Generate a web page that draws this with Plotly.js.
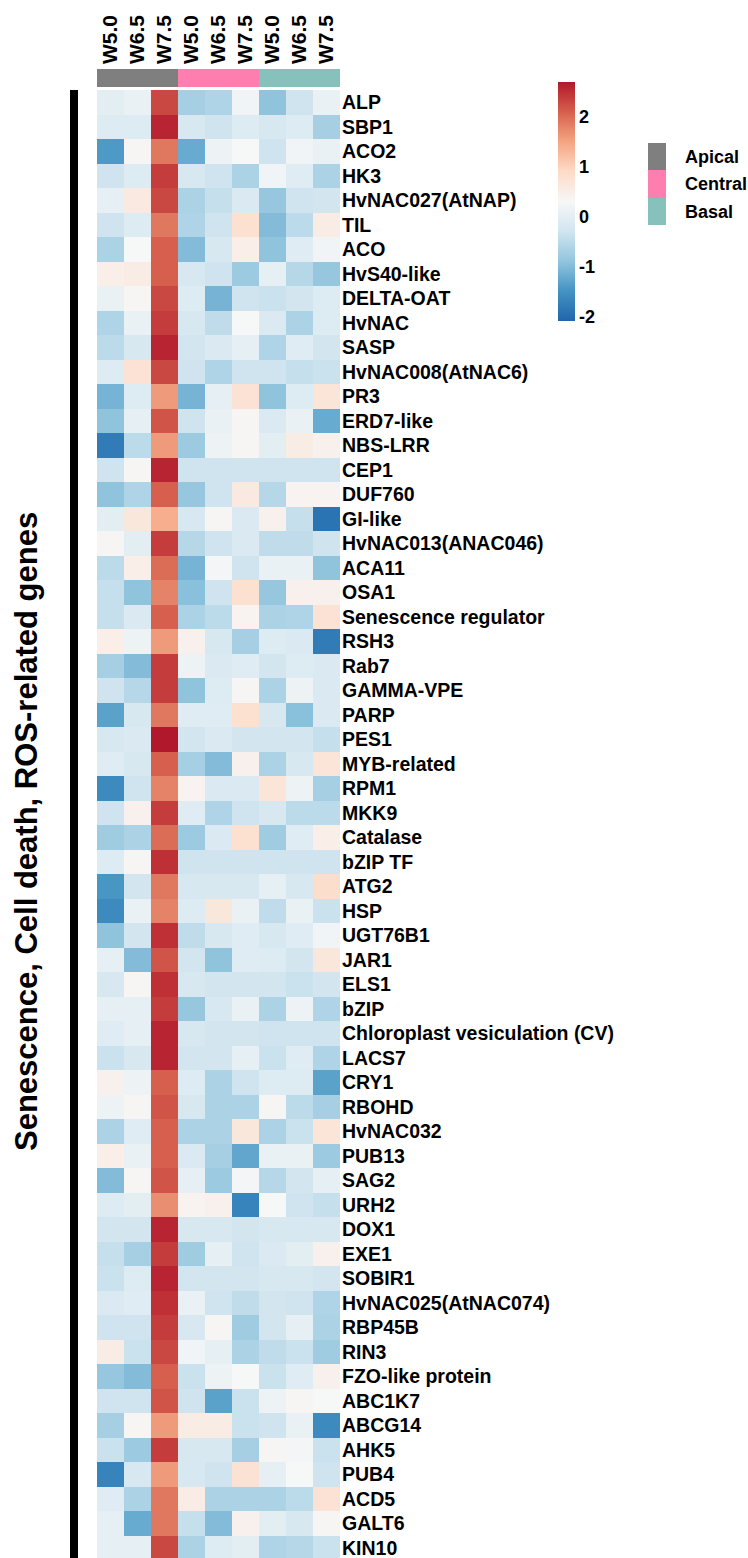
<!DOCTYPE html>
<html>
<head>
<meta charset="utf-8">
<script src="https://cdn.plot.ly/plotly-3.0.1.min.js"></script>
<style>html,body{margin:0;padding:0;background:#fff;overflow:hidden;}</style>
</head>
<body>
<div id="chart" style="width:748px;height:1558px;"></div>
<script>
// ---- data ----
const genes = ["ALP","SBP1","ACO2","HK3","HvNAC027(AtNAP)","TIL","ACO","HvS40-like","DELTA-OAT","HvNAC",
"SASP","HvNAC008(AtNAC6)","PR3","ERD7-like","NBS-LRR","CEP1","DUF760","GI-like","HvNAC013(ANAC046)","ACA11",
"OSA1","Senescence regulator","RSH3","Rab7","GAMMA-VPE","PARP","PES1","MYB-related","RPM1","MKK9",
"Catalase","bZIP TF","ATG2","HSP","UGT76B1","JAR1","ELS1","bZIP","Chloroplast vesiculation (CV)","LACS7",
"CRY1","RBOHD","HvNAC032","PUB13","SAG2","URH2","DOX1","EXE1","SOBIR1","HvNAC025(AtNAC074)",
"RBP45B","RIN3","FZO-like protein","ABC1K7","ABCG14","AHK5","PUB4","ACD5","GALT6","KIN10"];
const stages = ["W5.0","W6.5","W7.5"];
const groups = ["Apical","Central","Basal"];
const groupColors = ["#7F7F7F","#FF7EB0","#86C1BC"];
// rows = genes; columns = Apical W5.0,W6.5,W7.5 | Central W5.0,W6.5,W7.5 | Basal W5.0,W6.5,W7.5
const zScores = [
[0.0,0.1,2.3,-0.7,-0.6,0.2,-0.9,-0.3,0.1],
[-0.1,-0.1,2.6,-0.2,-0.3,-0.1,-0.2,-0.1,-0.7],
[-1.4,0.35,1.9,-1.2,0.15,0.3,-0.3,0.2,0.1],
[-0.3,-0.1,2.4,-0.2,-0.3,-0.65,0.2,-0.05,-0.65],
[0.05,0.6,2.3,-0.65,-0.4,-0.15,-0.85,-0.3,-0.25],
[-0.3,-0.1,1.9,-0.6,-0.3,0.8,-1.0,-0.5,0.55],
[-0.65,0.3,2.1,-1.0,-0.2,0.5,-0.9,-0.05,0.2],
[0.5,0.55,2.1,-0.2,-0.3,-0.8,0.05,-0.55,-0.85],
[0.1,0.35,2.3,-0.1,-1.1,-0.3,-0.35,-0.25,-0.1],
[-0.6,0.1,2.4,-0.2,-0.45,0.3,-0.15,-0.65,-0.1],
[-0.5,-0.2,2.6,-0.25,-0.15,0.05,-0.6,-0.05,-0.25],
[-0.1,0.75,2.3,-0.3,-0.6,-0.3,-0.3,-0.4,-0.35],
[-1.1,-0.1,1.6,-1.1,0.05,0.75,-0.9,-0.1,0.7],
[-0.9,0.05,2.2,-0.3,0.1,0.35,-0.15,0.1,-1.2],
[-1.8,-0.5,1.6,-0.8,0.15,0.35,0.0,0.55,0.45],
[-0.3,0.35,2.6,-0.3,-0.3,-0.3,-0.3,-0.3,-0.3],
[-0.9,-0.6,2.1,-0.85,-0.3,0.6,-0.55,0.4,0.4],
[0.0,0.65,1.4,-0.2,0.35,-0.15,0.45,-0.4,-1.9],
[0.35,0.0,2.4,-0.55,-0.3,-0.15,-0.45,-0.45,-0.3],
[-0.5,0.5,2.0,-1.1,0.25,-0.3,0.1,0.1,-0.9],
[-0.4,-0.9,1.8,-0.95,-0.3,0.8,-0.85,0.45,0.45],
[-0.4,-0.15,2.1,-0.65,-0.5,0.4,-0.65,-0.6,0.75],
[0.5,0.15,1.6,0.45,-0.2,-0.7,-0.1,-0.15,-1.8],
[-0.7,-1.0,2.4,0.15,-0.15,-0.05,-0.25,-0.1,-0.15],
[-0.3,-0.55,2.4,-0.9,-0.1,0.35,-0.65,0.15,-0.15],
[-1.3,-0.2,1.9,-0.05,-0.05,0.8,-0.2,-0.95,-0.15],
[-0.2,-0.15,2.7,-0.25,-0.15,-0.25,-0.25,-0.25,-0.4],
[-0.05,-0.2,2.1,-0.7,-1.0,0.45,-0.65,-0.2,0.7],
[-1.6,-0.3,1.8,0.4,-0.15,-0.15,0.7,0.15,-0.7],
[-0.3,0.45,2.4,-0.05,-0.6,-0.3,-0.2,-0.5,-0.5],
[-0.75,-0.65,2.0,-0.8,-0.15,0.8,-0.75,-0.05,0.5],
[-0.1,0.35,2.5,-0.3,-0.3,-0.3,-0.3,-0.3,-0.3],
[-1.45,-0.25,1.9,-0.2,-0.2,-0.2,0.05,-0.2,0.85],
[-1.6,0.1,1.8,-0.1,0.65,0.1,-0.45,0.1,-0.35],
[-0.9,-0.25,2.5,-0.45,-0.2,-0.05,-0.2,-0.05,0.2],
[0.05,-1.0,2.2,-0.25,-0.9,-0.05,-0.1,-0.25,0.65],
[-0.2,0.35,2.5,-0.2,-0.25,-0.25,-0.25,-0.35,-0.25],
[0.05,0.05,2.4,-0.85,-0.2,0.1,-0.65,0.15,-0.6],
[-0.05,0.05,2.6,-0.2,-0.25,-0.25,-0.3,-0.3,-0.3],
[-0.35,-0.2,2.6,-0.25,-0.25,0.05,-0.35,-0.05,-0.6],
[0.45,0.15,2.1,-0.1,-0.65,-0.3,-0.1,-0.1,-1.3],
[0.15,0.35,2.2,-0.2,-0.65,-0.65,0.35,-0.5,-0.7],
[-0.65,-0.05,2.1,-0.65,-0.65,0.65,-0.65,-0.35,0.7],
[0.5,0.1,2.1,-0.15,-0.7,-1.25,0.1,0.1,-0.8],
[-1.0,0.35,2.2,0.05,-0.8,0.25,-0.55,-0.25,0.05],
[-0.1,0.0,1.7,0.4,0.45,-1.7,0.3,-0.3,-0.4],
[-0.25,-0.25,2.6,-0.2,-0.2,-0.25,-0.2,-0.2,-0.2],
[-0.4,-0.7,2.4,-0.75,0.05,-0.3,-0.15,0.0,0.45],
[-0.35,-0.1,2.6,-0.25,-0.25,-0.25,-0.2,-0.2,-0.25],
[-0.15,-0.05,2.5,0.1,-0.3,-0.45,-0.25,-0.3,-0.6],
[-0.3,-0.3,2.4,-0.2,0.35,-0.75,-0.25,0.05,-0.65],
[0.55,-0.35,2.3,0.2,0.05,-0.65,-0.45,-0.35,-0.75],
[-0.85,-1.0,2.1,-0.35,0.15,0.3,-0.35,-0.05,0.45],
[-0.3,-0.3,2.2,-0.3,-1.3,-0.35,0.15,0.35,0.3],
[-0.7,0.35,1.6,0.55,0.55,-0.35,-0.3,0.1,-1.6],
[-0.35,-0.8,2.4,-0.2,-0.2,-0.7,0.35,0.25,-0.35],
[-1.7,-0.2,1.6,-0.2,-0.3,0.75,0.05,0.3,-0.3],
[-0.05,-0.65,1.9,0.55,-0.65,-0.65,-0.65,-0.5,0.75],
[0.05,-1.2,1.9,-0.4,-1.0,0.45,0.0,-0.2,0.35],
[0.05,0.05,2.3,-0.65,-0.1,0.0,-0.6,-0.55,-0.35]
];
const yTitle = "Senescence, Cell death, ROS-related genes";
const colorTicks = [-2,-1,0,1,2];
const colorTickText = ["-2","-1","0","1","2"];

// ---- derived ----
const W = 748, H = 1558;
const colIdx = [];
const colLabels = [];
const colGroup = [];
groups.forEach((g, gi) => stages.forEach(s => { colIdx.push(colIdx.length); colLabels.push(s); colGroup.push(gi); }));
const rowIdx = genes.map((g, i) => i);
const px = v => v / W;
const py = v => 1 - v / H;
const font = "Liberation Sans, Arial, sans-serif";
const rowH = 24.5, heatTop = 90;
const rowsVisible = (H - heatTop) / rowH;

const rdbu = [
  [0.0, "#2166AC"], [0.125, "#4393C3"], [0.25, "#92C5DE"], [0.375, "#D1E5F0"],
  [0.5, "#F7F7F7"], [0.625, "#FDDBC7"], [0.75, "#F4A582"], [0.875, "#D6604D"], [1.0, "#B2182B"]
];
const groupScale = [
  [0, groupColors[0]], [0.25, groupColors[0]], [0.25, groupColors[1]],
  [0.75, groupColors[1]], [0.75, groupColors[2]], [1, groupColors[2]]
];

const traces = [
  {
    type: "heatmap", x: colIdx, y: rowIdx, z: zScores,
    xaxis: "x", yaxis: "y",
    colorscale: rdbu, zmin: -2.08, zmax: 2.7,
    hoverinfo: "skip",
    colorbar: {
      thickness: 17, thicknessmode: "pixels",
      len: 239, lenmode: "pixels",
      x: px(558), xanchor: "left", y: py(82), yanchor: "top",
      xpad: 0, ypad: 0, outlinewidth: 0,
      tickmode: "array", tickvals: colorTicks, ticktext: colorTickText, ticks: "",
      tickfont: {family: font, size: 18, weight: "bold", color: "#000"}
    }
  },
  {
    type: "heatmap", x: colIdx, y: [0], z: [colGroup],
    xaxis: "x2", yaxis: "y2",
    colorscale: groupScale, zmin: 0, zmax: 2, showscale: false, hoverinfo: "skip"
  },
  {
    type: "heatmap", x: [0], y: [0, 1, 2], z: groups.map((g, i) => [i]),
    xaxis: "x3", yaxis: "y3",
    colorscale: groupScale, zmin: 0, zmax: 2, showscale: false, hoverinfo: "skip"
  }
];

const hidden = {showgrid: false, zeroline: false, showticklabels: false, ticks: "", showline: false};

const layout = {
  width: W, height: H,
  margin: {l: 0, r: 0, t: 0, b: 0, pad: 0},
  paper_bgcolor: "#fff", plot_bgcolor: "#fff",
  showlegend: false,
  xaxis: Object.assign({}, hidden, {domain: [px(97), px(340)], range: [-0.5, 8.5], anchor: "y"}),
  yaxis: {
    domain: [0, py(heatTop)], range: [-0.5 + rowsVisible, -0.5], anchor: "x",
    side: "right", showgrid: false, zeroline: false, ticks: "", showline: false,
    tickmode: "array", tickvals: rowIdx, ticktext: genes, ticklabelstandoff: 1,
    ticklabeloverflow: "allow",
    tickfont: {family: font, size: 19.5, weight: "bold", color: "#000"}
  },
  xaxis2: {
    domain: [px(97), px(340)], range: [-0.5, 8.5], anchor: "y2", side: "top",
    showgrid: false, zeroline: false, ticks: "", showline: false,
    tickmode: "array", tickvals: colIdx, ticktext: colLabels, tickangle: -90,
    ticklabelstandoff: 4,
    tickfont: {family: font, size: 21, weight: "bold", color: "#000"}
  },
  yaxis2: Object.assign({}, hidden, {domain: [py(87), py(69)], range: [-0.5, 0.5], anchor: "x2"}),
  xaxis3: Object.assign({}, hidden, {domain: [px(648), px(666)], range: [-0.5, 0.5], anchor: "y3"}),
  yaxis3: {
    domain: [py(225), py(143)], range: [2.5, -0.5], anchor: "x3", side: "right",
    showgrid: false, zeroline: false, ticks: "", showline: false,
    tickmode: "array", tickvals: [0, 1, 2], ticktext: groups, ticklabelstandoff: 18,
    tickfont: {family: font, size: 18, weight: "bold", color: "#000"}
  },
  shapes: [{
    type: "rect", xref: "paper", yref: "paper",
    x0: px(70), x1: px(78), y0: 0, y1: py(heatTop),
    fillcolor: "#000", line: {width: 0}
  }],
  annotations: [{
    text: yTitle, xref: "paper", yref: "paper",
    x: px(26), y: py(832), xanchor: "center", yanchor: "middle",
    textangle: -90, showarrow: false,
    font: {family: font, size: 31, weight: "bold", color: "#000"}
  }]
};

Plotly.newPlot("chart", traces, layout, {staticPlot: true, displayModeBar: false});
</script>
</body>
</html>
